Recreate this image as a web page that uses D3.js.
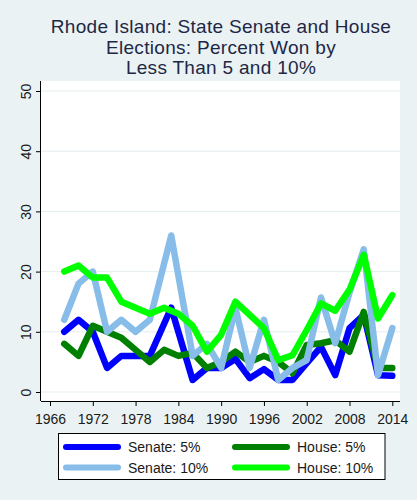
<!DOCTYPE html>
<html>
<head>
<meta charset="utf-8">
<script src="https://cdn.jsdelivr.net/npm/d3@7"></script>
<style>
  html, body { margin: 0; padding: 0; background: #EAF2F3; }
  svg { display: block; font-family: "Liberation Sans", Arial, sans-serif; }
</style>
</head>
<body>
<script>
// ---- data ----
const houseYears  = [1968,1970,1972,1974,1976,1978,1980,1982,1984,1986,1988,1990,1992,1994,1996,1998,2000,2002,2004,2006,2008,2010,2012,2014];
const senateYears = [1968,1970,1972,1974,1976,1978,1980,1983,1986,1988,1990,1992,1994,1996,1998,2000,2002,2004,2006,2008,2010,2012,2014];
const senate5  = [10,12,10,4,6,6,6,14,2,4,4,5.5,2.3,3.8,2,2,4.8,7.5,2.8,10.6,12.8,2.8,2.7];
const senate10 = [12,18,20,10,12,10,12,26,6,8,4,14,4,12,2,4,5.3,15.7,8.1,16.5,23.7,2.8,10.6];
const house5   = [8,6,11,10,9,7,5,7,6,6.5,4,5,6.7,5,6,5,3.1,7.8,8.1,8.6,6.7,13.3,4,4];
const house10  = [20,21,19,19,15,14,13,14,13,11,6.7,9.5,15,12.8,10.6,5.3,6.1,10.3,14.7,13.5,17,22.8,12.2,16.1];
const xTicks = [1966,1972,1978,1984,1990,1996,2002,2008,2014];
const yTicks = [0,10,20,30,40,50];
const titleLines = ["Rhode Island: State Senate and House", "Elections: Percent Won by", "Less Than 5 and 10%"];
const seriesNames = ["Senate: 5%", "House: 5%", "Senate: 10%", "House: 10%"];
const seriesColors = ["#0000FF", "#008000", "#87BDE8", "#00FF00"];

const W = 417, H = 500;
const svg = d3.select("body").append("svg").attr("width", W).attr("height", H);
svg.append("rect").attr("width", W).attr("height", H).attr("fill", "#EAF2F3");

// plot region
const plotL = 41, plotR = 400, plotT = 81, plotB = 401;
svg.append("rect").attr("x", plotL).attr("y", plotT).attr("width", plotR - plotL).attr("height", plotB - plotT).attr("fill", "#fff");

const x = d3.scaleLinear().domain([1966, 2014]).range([50, 392.3]);
const y = d3.scaleLinear().domain([0, 50]).range([392, 91]);

// gridlines
svg.append("g").selectAll("line").data(yTicks).join("line")
  .attr("x1", plotL).attr("x2", plotR)
  .attr("y1", d => y(d)).attr("y2", d => y(d))
  .attr("stroke", "#E4EDEF").attr("stroke-width", 1);

// title
svg.append("g").selectAll("text").data(titleLines).join("text")
  .attr("x", 221).attr("y", (d, i) => 33.3 + i * 20.4)
  .attr("text-anchor", "middle")
  .attr("font-size", 19).attr("letter-spacing", 0.3)
  .attr("fill", "#1E2746")
  .text(d => d);

// series
const series = [
  {years: senateYears, vals: senate5},
  {years: houseYears,  vals: house5},
  {years: senateYears, vals: senate10},
  {years: houseYears,  vals: house10}
];
const line = d3.line().x(d => x(d[0])).y(d => y(d[1]));
const clip = svg.append("clipPath").attr("id", "clip").append("rect")
  .attr("x", plotL).attr("y", plotT).attr("width", plotR - plotL).attr("height", plotB - plotT);
series.forEach((s, i) => {
  svg.append("path")
    .attr("d", line(s.years.map((yr, j) => [yr, s.vals[j]])))
    .attr("fill", "none")
    .attr("stroke", seriesColors[i])
    .attr("stroke-width", 6.5)
    .attr("stroke-linejoin", "round")
    .attr("stroke-linecap", "round")
    .attr("clip-path", "url(#clip)");
});

// axes
const xAxis = d3.axisBottom(x).tickValues(xTicks).tickFormat(d3.format("d")).tickSize(5).tickPadding(5);
const gx = svg.append("g").attr("transform", `translate(0,${plotB})`).call(xAxis);
gx.select(".domain").attr("d", `M${plotL},0.5H${plotR}`).attr("stroke", "#000");
gx.selectAll(".tick line").attr("stroke", "#000");
gx.selectAll(".tick text").attr("font-size", 14).attr("fill", "#1a1a1a").attr("font-family", "Liberation Sans, Arial, sans-serif").attr("dy", "0.9em");

const yAxis = d3.axisLeft(y).tickValues(yTicks).tickSize(5).tickPadding(5);
const gy = svg.append("g").attr("transform", `translate(${plotL},0)`).call(yAxis);
gy.select(".domain").attr("d", `M-0.5,${plotT}V${plotB}`).attr("stroke", "#000");
gy.selectAll(".tick line").attr("stroke", "#000");
gy.selectAll(".tick text")
  .attr("font-size", 14).attr("fill", "#1a1a1a")
  .attr("font-family", "Liberation Sans, Arial, sans-serif")
  .attr("text-anchor", "middle")
  .attr("x", null).attr("dy", null)
  .attr("transform", "translate(-10,0) rotate(-90)");

// legend
const lg = svg.append("g");
lg.append("rect").attr("x", 58.5).attr("y", 433.5).attr("width", 326.5).attr("height", 46)
  .attr("fill", "#fff").attr("stroke", "#000").attr("stroke-width", 1);
const cols = [63, 232], rows = [447, 467.5];
seriesNames.forEach((name, i) => {
  const cx = cols[i % 2], cy = rows[Math.floor(i / 2)];
  lg.append("line").attr("x1", cx + 3).attr("x2", cx + 55).attr("y1", cy).attr("y2", cy)
    .attr("stroke", seriesColors[i]).attr("stroke-width", 6).attr("stroke-linecap", "round");
  lg.append("text").attr("x", cx + 65).attr("y", cy + 5).attr("font-size", 14).attr("fill", "#1a1a1a").text(name);
});
</script>
</body>
</html>
